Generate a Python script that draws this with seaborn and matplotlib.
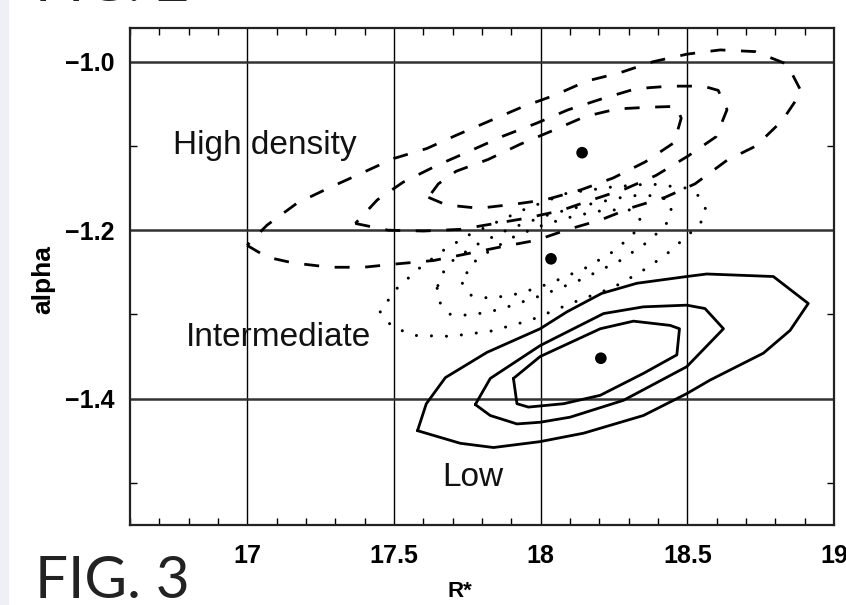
import numpy as np
import pandas as pd
import seaborn as sns
import matplotlib.pyplot as plt
from matplotlib.ticker import MultipleLocator
from matplotlib.patches import Rectangle

# contour vertices (R*, alpha), one pair of lists per level
high_outer_r = [16.999, 17.067, 17.158, 17.283, 17.396, 17.510, 17.635, 17.749, 17.862, 17.985,
                18.094, 18.203, 18.312, 18.424, 18.526, 18.635, 18.734, 18.823, 18.889, 18.840,
                18.731, 18.612, 18.499, 18.383, 18.271, 18.157, 18.046, 17.935, 17.828, 17.714,
                17.612, 17.498, 17.385, 17.277, 17.169, 17.067]
high_outer_a = [-1.218, -1.232, -1.239, -1.244, -1.244, -1.240, -1.236, -1.228, -1.220, -1.212,
                -1.199, -1.188, -1.173, -1.161, -1.145, -1.117, -1.100, -1.070, -1.036, -1.003,
                -0.988, -0.986, -0.991, -1.000, -1.013, -1.023, -1.040, -1.054, -1.070, -1.087,
                -1.103, -1.115, -1.133, -1.150, -1.168, -1.194]
high_mid_r = [17.368, 17.480, 17.600, 17.726, 17.828, 17.947, 18.066, 18.175, 18.288, 18.393,
              18.502, 18.598, 18.635, 18.605, 18.554, 18.441, 18.325, 18.209, 18.094, 17.986,
              17.874, 17.765, 17.647, 17.531, 17.443]
high_mid_a = [-1.192, -1.200, -1.201, -1.199, -1.193, -1.186, -1.177, -1.164, -1.151, -1.135,
              -1.112, -1.089, -1.057, -1.034, -1.029, -1.029, -1.032, -1.044, -1.057, -1.073,
              -1.088, -1.105, -1.123, -1.143, -1.164]
high_inner_r = [17.617, 17.678, 17.790, 17.913, 18.015, 18.138, 18.247, 18.356, 18.455, 18.479,
                18.462, 18.373, 18.261, 18.152, 18.039, 17.930, 17.821, 17.712, 17.651]
high_inner_a = [-1.161, -1.170, -1.174, -1.169, -1.164, -1.152, -1.138, -1.119, -1.096, -1.067,
                -1.053, -1.054, -1.056, -1.065, -1.082, -1.098, -1.116, -1.130, -1.145]

mid_outer_r = [17.453, 17.494, 17.572, 17.692, 17.828, 17.964, 18.117, 18.247, 18.339, 18.424,
               18.492, 18.543, 18.564, 18.537, 18.496, 18.373, 18.237, 18.090, 17.940, 17.828,
               17.753, 17.668, 17.583, 17.504]
mid_outer_a = [-1.297, -1.315, -1.325, -1.326, -1.320, -1.307, -1.285, -1.268, -1.250, -1.230,
               -1.209, -1.193, -1.176, -1.159, -1.150, -1.145, -1.149, -1.156, -1.176, -1.194,
               -1.206, -1.224, -1.246, -1.271]
mid_mid_r = [17.647, 17.658, 17.692, 17.760, 17.862, 17.998, 18.135, 18.271, 18.373, 18.434,
             18.448, 18.407, 18.305, 18.169, 18.032, 17.896, 17.777, 17.692, 17.658]
mid_mid_a = [-1.269, -1.287, -1.300, -1.301, -1.294, -1.278, -1.259, -1.236, -1.212, -1.190,
             -1.170, -1.159, -1.159, -1.169, -1.181, -1.198, -1.218, -1.238, -1.255]
mid_inner_r = [17.733, 17.760, 17.828, 17.930, 18.032, 18.152, 18.254, 18.322, 18.339, 18.305,
               18.220, 18.117, 18.015, 17.913, 17.828, 17.760]
mid_inner_a = [-1.263, -1.277, -1.281, -1.275, -1.263, -1.245, -1.224, -1.202, -1.186, -1.176,
               -1.176, -1.183, -1.193, -1.207, -1.224, -1.241]

low_outer_r = [17.580, 17.610, 17.675, 17.817, 17.998, 18.089, 18.208, 18.328, 18.498, 18.566,
               18.793, 18.912, 18.850, 18.759, 18.577, 18.498, 18.350, 18.146, 17.998, 17.839,
               17.726]
low_outer_a = [-1.438, -1.406, -1.375, -1.345, -1.317, -1.297, -1.275, -1.263, -1.255, -1.252,
               -1.255, -1.287, -1.319, -1.346, -1.378, -1.394, -1.420, -1.441, -1.451, -1.458,
               -1.453]
low_mid_r = [17.777, 17.828, 17.998, 18.214, 18.350, 18.498, 18.560, 18.623, 18.498, 18.282,
             18.100, 17.998, 17.919, 17.828]
low_mid_a = [-1.407, -1.376, -1.337, -1.299, -1.291, -1.289, -1.293, -1.317, -1.362, -1.402,
             -1.422, -1.428, -1.430, -1.420]
low_inner_r = [17.907, 17.919, 17.958, 18.078, 18.203, 18.350, 18.464, 18.473, 18.441, 18.316,
               18.203, 17.998]
low_inner_a = [-1.376, -1.406, -1.410, -1.406, -1.396, -1.370, -1.348, -1.317, -1.313, -1.308,
               -1.317, -1.350]

# best-fit points
centre_r = [18.141, 18.035, 18.205]
centre_a = [-1.108, -1.234, -1.352]

groups = ["High density", "Intermediate", "Low"]
contours = [
    ("High density", "outer", high_outer_r, high_outer_a),
    ("High density", "mid", high_mid_r, high_mid_a),
    ("High density", "inner", high_inner_r, high_inner_a),
    ("Intermediate", "outer", mid_outer_r, mid_outer_a),
    ("Intermediate", "mid", mid_mid_r, mid_mid_a),
    ("Intermediate", "inner", mid_inner_r, mid_inner_a),
    ("Low", "outer", low_outer_r, low_outer_a),
    ("Low", "mid", low_mid_r, low_mid_a),
    ("Low", "inner", low_inner_r, low_inner_a),
]

frames = []
for grp, lvl, rr, aa in contours:
    # close each contour
    frames.append(pd.DataFrame({"group": grp, "level": lvl,
                                "R": list(rr) + rr[:1], "alpha": list(aa) + aa[:1]}))
df = pd.concat(frames, ignore_index=True)

sns.set_theme(style="white")
plt.rcParams["font.family"] = ["Liberation Sans", "DejaVu Sans"]

fig = plt.figure(figsize=(8.46, 6.05), dpi=100)
fig.patch.set_facecolor("white")
fig.add_artist(Rectangle((0, 0), 8 / 846, 1, transform=fig.transFigure,
                         color="#eef0f5", zorder=-1))
ax = fig.add_axes([0.1537, 0.1322, 0.8322, 0.8215])

line_kw = {
    "High density": dict(linestyle=(0, (5.4, 5.6)), lw=2.0),
    "Intermediate": dict(linestyle=(0, (0.01, 4.9)), lw=2.2, dash_capstyle="round"),
    "Low": dict(linestyle="-", lw=2.0),
}
for g in groups:
    sns.lineplot(data=df[df.group == g], x="R", y="alpha", units="level",
                 estimator=None, sort=False, color="black", ax=ax,
                 legend=False, **line_kw[g])

sns.scatterplot(x=centre_r, y=centre_a, color="black", s=70,
                edgecolor="none", ax=ax, zorder=5)

ax.set_xlim(16.6, 19.0)
ax.set_ylim(-1.55, -0.96)
ax.xaxis.set_minor_locator(MultipleLocator(0.1))
ax.yaxis.set_minor_locator(MultipleLocator(0.1))
xt = [17, 17.5, 18, 18.5, 19]
ax.set_xticks(xt)
ax.set_xticklabels(["17", "17.5", "18", "18.5", "19"])
yt = [-1.4, -1.2, -1.0]
ax.set_yticks(yt)
ax.set_yticklabels(["\u22121.4", "\u22121.2", "\u22121.0"])

for lab in ax.get_xticklabels() + ax.get_yticklabels():
    lab.set_fontweight("bold")
    lab.set_fontsize(18)
    lab.set_color("black")

ax.tick_params(which="major", length=0, pad=14, axis="x")
ax.tick_params(which="major", length=0, pad=11, axis="y")
ax.tick_params(which="minor", direction="in", length=5, width=1.0,
               top=True, bottom=True, left=True, right=True, color="black")
ax.xaxis.grid(True, color="black", lw=1.0)
ax.yaxis.grid(True, color="#333333", lw=1.8)
ax.set_axisbelow(True)
for sp in ax.spines.values():
    sp.set_color("#222222")
    sp.set_linewidth(1.6)
    sp.set_visible(True)

ax.set_xlabel("R*", fontsize=16, fontweight="bold", color="black")
ax.xaxis.set_label_coords(0.469, -0.112)
ax.xaxis.label.set_va("top")
ax.set_ylabel("alpha", fontsize=19, fontweight="bold", color="black")
ax.yaxis.set_label_coords(-0.106, 0.493)

txt_kw = dict(fontsize=24, color="#111111", va="baseline", ha="left")
ax.text(16.747, -1.110, "High density", **txt_kw)
ax.text(16.789, -1.338, "Intermediate", **txt_kw)
ax.text(17.666, -1.504, "Low", **txt_kw)

fig_kw = dict(fontsize=42, color="#222222", family=["Lato", "DejaVu Sans"],
              fontweight="normal", va="baseline", ha="left")
fig.text(35 / 846, 1 - 598 / 605, "FIG. 3", **fig_kw)
fig.text(35 / 846, 1 - 1 / 605, "FIG. 2", **fig_kw)

fig.savefig("out.png", dpi=100)
